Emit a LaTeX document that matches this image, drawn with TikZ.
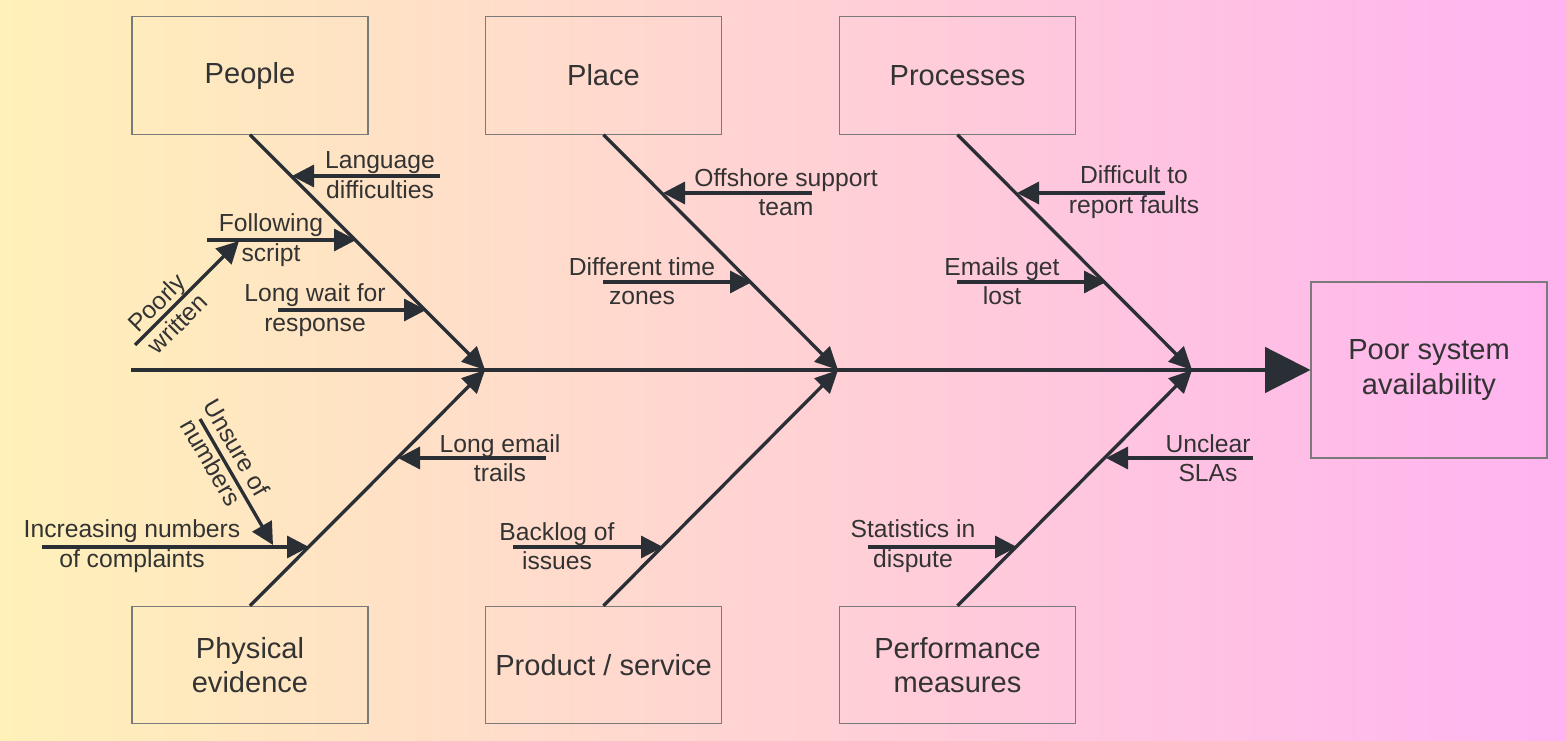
\documentclass[tikz,border=0pt]{standalone}
\usepackage{fontspec}
\setmainfont{Liberation Sans}
\usetikzlibrary{arrows.meta}
\definecolor{ln}{HTML}{2A2F36}
\definecolor{tx}{HTML}{333333}
\definecolor{bgl}{HTML}{FFF1B8}
\definecolor{bgr}{HTML}{FFB3F0}
\definecolor{bd}{HTML}{7A7A7A}
\begin{document}
\begin{tikzpicture}[x=0.75pt,y=-0.75pt,
 cat/.style={draw=bd, line width=0.8pt, minimum width=177pt, minimum height=88pt, inner sep=0pt, text=tx, font=\fontsize{21.8}{26}\selectfont, align=center},
 lbl/.style={text=tx, font=\fontsize{18.5}{22}\selectfont, align=center, inner sep=0pt},
 bone/.style={draw=ln, line width=2.5pt, -{Triangle[length=17pt,width=16pt]}},
 sub/.style={draw=ln, line width=2.5pt, -{Triangle[length=16.5pt,width=16.5pt]}}
]
\shade[left color=bgl, right color=bgr] (0,0) rectangle (1566,741);
\useasboundingbox (0,0) rectangle (1566,741);

% category boxes
\node[cat] (people) at (250,75.5) {People};
\node[cat] (place) at (603.5,75.5) {Place};
\node[cat] (proc) at (957.5,75.5) {Processes};
\node[cat] (phys) at (250,665) {Physical\\evidence};
\node[cat] (prod) at (603.5,665) {Product / service};
\node[cat] (perf) at (957.5,665) {Performance\\measures};
\node[cat, minimum height=132pt] (res) at (1429,370) {Poor system\\availability};

% spine
\coordinate (tail) at (131,370);
\coordinate (j1) at (485,370);
\coordinate (j2) at (838,370);
\coordinate (j3) at (1192,370);
\draw[draw=ln, line width=2.5pt, -{Triangle[length=34pt,width=34pt]}] (tail) -- (res.west);

% bones
\draw[bone] (people.south) -- (j1);
\draw[bone] (phys.north) -- (j1);
\draw[bone] (place.south) -- (j2);
\draw[bone] (prod.north) -- (j2);
\draw[bone] (proc.south) -- (j3);
\draw[bone] (perf.north) -- (j3);

% People causes
\coordinate (a1s) at (440,176); \coordinate (a1e) at (292,176);
\draw[sub] (a1s) -- (a1e);
\node[lbl] (t1) at (380,175) {Language\\difficulties};
\coordinate (a2s) at (207,240); \coordinate (a2e) at (356,240);
\draw[sub] (a2s) -- (a2e);
\node[lbl] (t2) at (271,240) {Following\\script};
\coordinate (a3s) at (135,345); \coordinate (a3e) at (239,241);
\draw[sub] (a3s) -- (a3e);
\node[lbl, rotate=45] (t3) at (167,313) {Poorly\\written};
\coordinate (a4s) at (278,310); \coordinate (a4e) at (426,310);
\draw[sub] (a4s) -- (a4e);
\node[lbl] (t4) at (315,310) {Long wait for\\response};

% Place causes
\coordinate (a5s) at (812,193); \coordinate (a5e) at (663,193);
\draw[sub] (a5s) -- (a5e);
\node[lbl] (t5) at (786,192) {Offshore support\\team};
\coordinate (a6s) at (603,282); \coordinate (a6e) at (752,282);
\draw[sub] (a6s) -- (a6e);
\node[lbl] (t6) at (642,281) {Different time\\zones};

% Processes causes
\coordinate (a7s) at (1165,193); \coordinate (a7e) at (1017,193);
\draw[sub] (a7s) -- (a7e);
\node[lbl] (t7) at (1134,192) {Difficult to\\report faults};
\coordinate (a8s) at (957,282); \coordinate (a8e) at (1106,282);
\draw[sub] (a8s) -- (a8e);
\node[lbl] (t8) at (1002,281) {Emails get\\lost};

% Physical evidence causes
\coordinate (a9s) at (546,458); \coordinate (a9e) at (398,458);
\draw[sub] (a9s) -- (a9e);
\node[lbl] (t9) at (500,458) {Long email\\trails};
\coordinate (a10s) at (42,547); \coordinate (a10e) at (309,547);
\draw[sub] (a10s) -- (a10e);
\node[lbl] (t10) at (132,546) {Increasing numbers\\of complaints};
\coordinate (a11s) at (200,419); \coordinate (a11e) at (273,545);
\draw[sub] (a11s) -- (a11e);
\node[lbl, rotate=-60] (t11) at (224,455) {Unsure of\\numbers};

% Product causes
\coordinate (a12s) at (513,547); \coordinate (a12e) at (663,547);
\draw[sub] (a12s) -- (a12e);
\node[lbl] (t12) at (557,546) {Backlog of\\issues};

% Performance causes
\coordinate (a13s) at (1253,458); \coordinate (a13e) at (1106,458);
\draw[sub] (a13s) -- (a13e);
\node[lbl] (t13) at (1208,458) {Unclear\\SLAs};
\coordinate (a14s) at (868,547); \coordinate (a14e) at (1017,547);
\draw[sub] (a14s) -- (a14e);
\node[lbl] (t14) at (913,546) {Statistics in\\dispute};
\end{tikzpicture}
\end{document}
